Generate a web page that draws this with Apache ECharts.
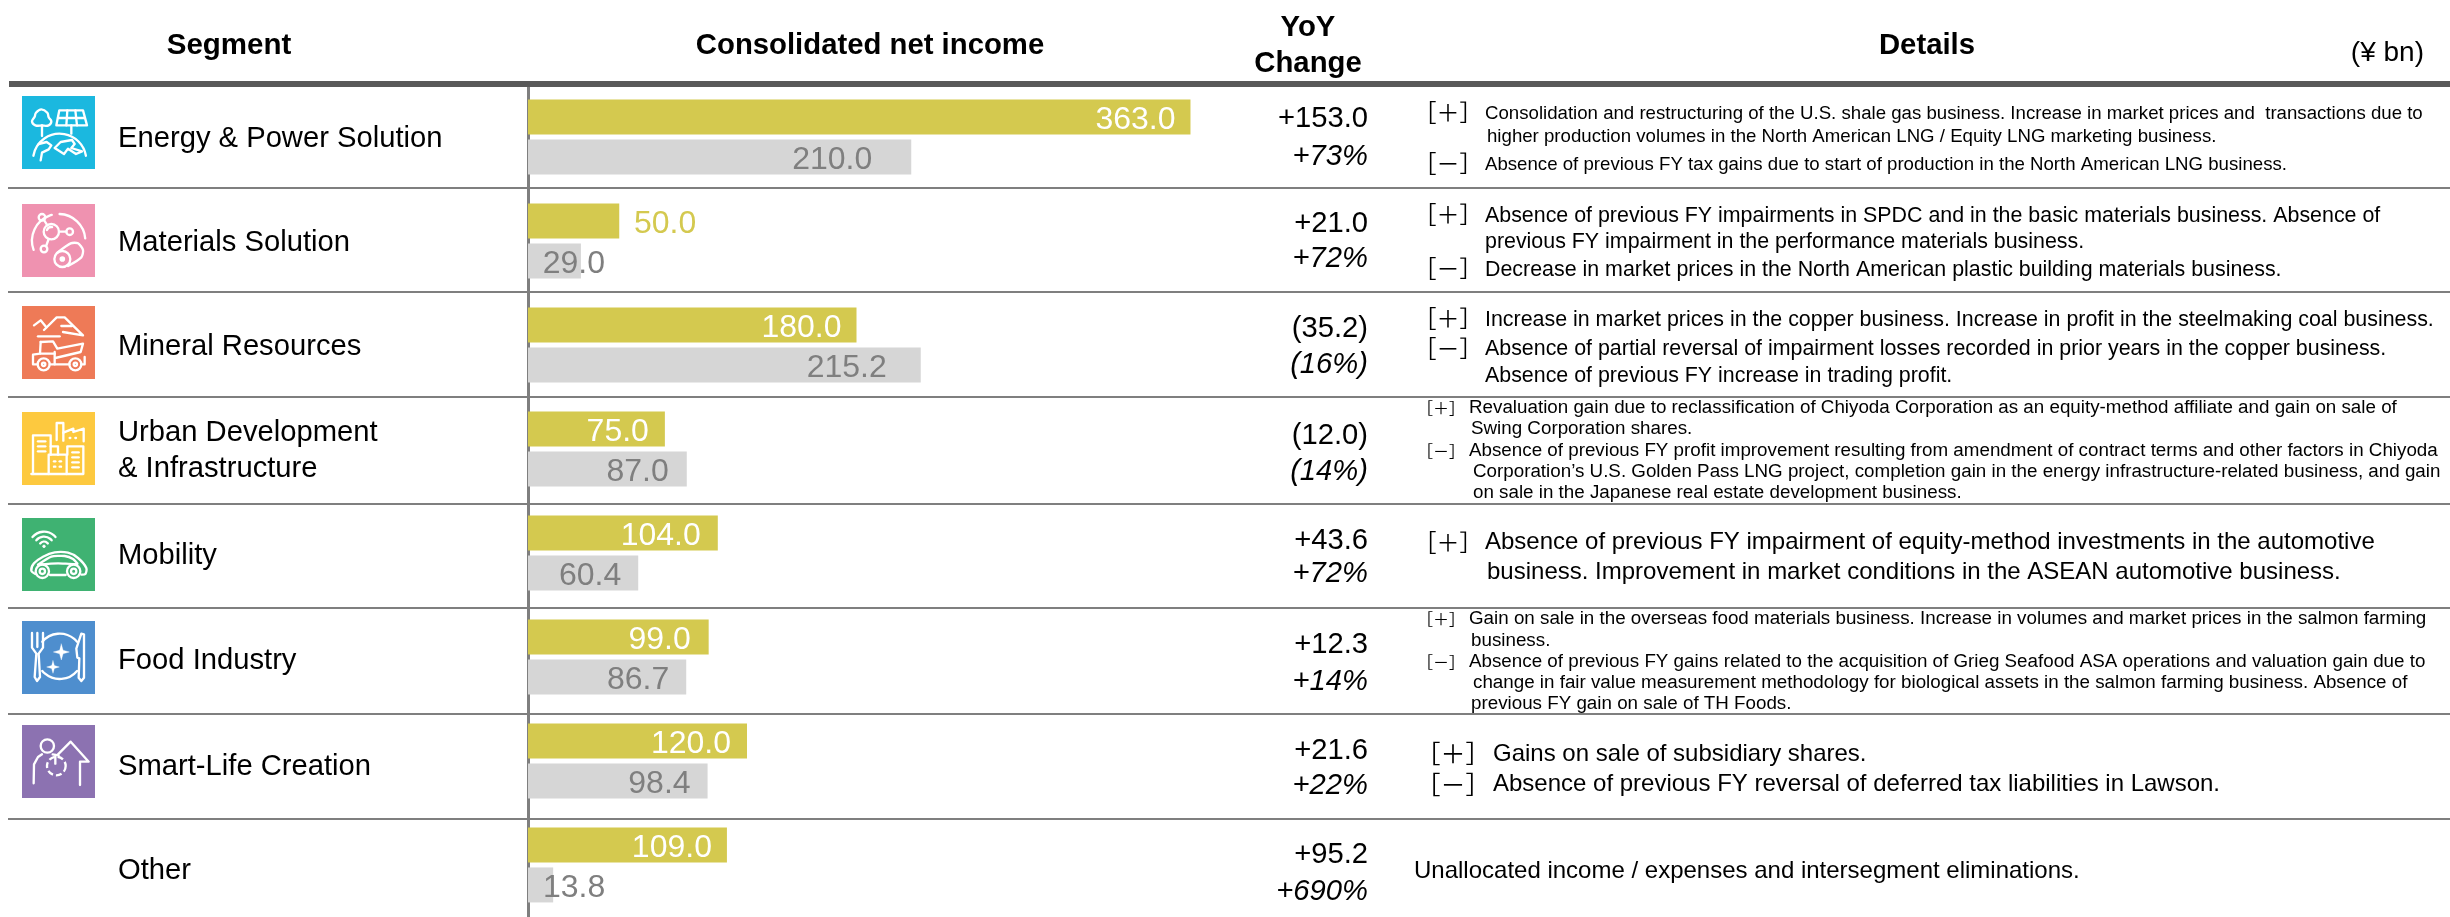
<!DOCTYPE html>
<html><head><meta charset="utf-8">
<style>html,body{margin:0;padding:0;background:#fff}#c{width:2450px;height:917px}</style>
<script src="https://cdn.jsdelivr.net/npm/echarts@6/dist/echarts.min.js"></script>
</head><body><div id="c"></div>
<script>
const segments = ['Energy & Power Solution','Materials Solution','Mineral Resources','Urban Development\n& Infrastructure','Mobility','Food Industry','Smart-Life Creation','Other'];
const currentFY = [363.0,50.0,180.0,75.0,104.0,99.0,120.0,109.0];
const previousFY = [210.0,29.0,215.2,87.0,60.4,86.7,98.4,13.8];
const yoyAmount = ['+153.0','+21.0','(35.2)','(12.0)','+43.6','+12.3','+21.6','+95.2'];
const yoyPercent = ['+73%','+72%','(16%)','(14%)','+72%','+14%','+22%','+690%'];
const headers = ['Segment','Consolidated net income','YoY','Change','Details'];
const unitLabel = '(¥ bn)';
const detailText = [
 'Consolidation and restructuring of the U.S. shale gas business. Increase in market prices and  transactions due to',
 'higher production volumes in the North American LNG / Equity LNG marketing business.',
 'Absence of previous FY tax gains due to start of production in the North American LNG business.',
 'Absence of previous FY impairments in SPDC and in the basic materials business. Absence of',
 'previous FY impairment in the performance materials business.',
 'Decrease in market prices in the North American plastic building materials business.',
 'Increase in market prices in the copper business. Increase in profit in the steelmaking coal business.',
 'Absence of partial reversal of impairment losses recorded in prior years in the copper business.',
 'Absence of previous FY increase in trading profit.',
 'Revaluation gain due to reclassification of Chiyoda Corporation as an equity-method affiliate and gain on sale of',
 'Swing Corporation shares.',
 'Absence of previous FY profit improvement resulting from amendment of contract terms and other factors in Chiyoda',
 'Corporation\u2019s U.S. Golden Pass LNG project, completion gain in the energy infrastructure-related business, and gain',
 'on sale in the Japanese real estate development business.',
 'Absence of previous FY impairment of equity-method investments in the automotive',
 'business. Improvement in market conditions in the ASEAN automotive business.',
 'Gain on sale in the overseas food materials business. Increase in volumes and market prices in the salmon farming',
 'business.',
 'Absence of previous FY gains related to the acquisition of Grieg Seafood ASA operations and valuation gain due to',
 'change in fair value measurement methodology for biological assets in the salmon farming business. Absence of',
 'previous FY gain on sale of TH Foods.',
 'Gains on sale of subsidiary shares.',
 'Absence of previous FY reversal of deferred tax liabilities in Lawson.',
 'Unallocated income / expenses and intersegment eliminations.'
];
// layout (pixels), kept apart from the data
const detailLayout = [[1485,114,18.65],[1487,137,18.65],[1485,165,18.65],[1485,216,21.4],[1485,242,21.4],[1485,270,21.4],[1485,320,21.4],[1485,349,21.4],[1485,376,21.4],[1469,408,18.8],[1471,429,18.8],[1469,451,18.8],[1473,472,18.8],[1473,493,18.8],[1485,542,24],[1487,572,24],[1469,619,18.8],[1471,641,18.8],[1469,662,18.8],[1473,683,18.8],[1471,704,18.8],[1493,754,24],[1493,784,24],[1414,871,24]];
const bracketLayout = [['+',1448,112,23],['-',1448,163,23],['+',1448,214,23],['-',1448,268,23],['+',1448,318,23],['-',1448,348,23],['+',1441,408,16],['-',1441,451,16],['+',1448,542,23],['+',1441,619,16],['-',1441,662,16],['+',1453,753,25],['-',1453,784,25]];
const yoyY = [[119,157],[224,259],[329,365],[436,472],[541,574],[645,682],[751,786],[855,892]];
const ruleY = [188,292,397,504,608,714,819];
const labelSkewCurrent = [15,-77,15,16,17,18,16,15];
const labelSkewPrevious = [39,-24,34,18,17,17,17,-52];
const labelPad = [3,3,3,3,6,7,11,11];
const iconY = [92,200,302,408,514,617,721];
const iconColor = ['#1BB8DF','#EF92B0','#EE7A57','#FDC93F','#3FB272','#4E8ECE','#8C72B1'];

const FONT = '"Liberation Sans", Arial, sans-serif';
const W = '#ffffff';
function P(pts, o){ o=o||{}; return {type:o.close?'polygon':'polyline', shape:{points:pts, smooth:o.smooth||0}, style:{fill:o.fill||'none', stroke:W, lineWidth:o.w||7, lineJoin:'round', lineCap:'round'}}; }
function C(cx,cy,r,o){ o=o||{}; return {type:'circle', shape:{cx,cy,r}, style:{fill:o.fill||'none', stroke:W, lineWidth:o.w||7, lineDash:o.dash||null}}; }
function A(cx,cy,r,a,b){ return {type:'arc', shape:{cx,cy,r,startAngle:a*Math.PI/180,endAngle:b*Math.PI/180,clockwise:true}, style:{fill:'none',stroke:W,lineWidth:7,lineCap:'round'}}; }
function spark(x,y,s){ const k=s*0.22; return P([[x,y-s],[x+k,y-k],[x+s,y],[x+k,y+k],[x,y+s],[x-k,y+k],[x-s,y],[x-k,y-k]],{close:1,fill:W,w:1}); }
const iconShapes = [
 [ // energy
  P([[72,100],[52,100],[42,88],[50,74],[54,62],[70,52],[88,62],[92,76],[100,88],[92,100],[72,100]],{smooth:0.4}),
  P([[72,100],[72,132]]),
  P([[124,55],[195,55],[207,100],[115,100]],{close:1}),
  P([[148,55],[145,100]]),P([[172,55],[177,100]]),P([[120,78],[201,78]]),P([[160,100],[160,125]]),
  A(125,205,80,190,350),
  P([[68,205],[72,182],[92,172],[100,160],[86,150],[62,156]]),
  P([[110,168],[128,150],[162,144],[170,156],[160,168],[192,178],[174,186],[150,170],[138,186],[110,168]])
 ],
 [ // materials
  A(122,122,80,-88,-5), A(122,122,80,160,255),
  C(100,95,23), A(100,95,14,200,280),
  C(72,52,10), C(155,95,10), C(78,147,10),
  P([[78,60],[88,76]]),P([[123,95],[145,95]]),P([[84,139],[92,117]]),
  C(133,177,24), C(133,177,5,{fill:W}),
  P([[118,158],[158,130],[180,130],[195,150],[190,172],[150,198]],{smooth:0.25})
 ],
 [ // mineral
  P([[48,70],[68,55],[85,76]]),
  P([[78,84],[116,46],[140,46],[195,100],[135,90]]),
  P([[130,72],[162,72]]),P([[60,103],[125,103]]),
  P([[68,120],[105,118],[118,140],[195,125],[188,150],[112,168]]),
  P([[68,120],[66,155],[45,158],[45,187],[58,187]]),
  P([[96,187],[154,187]]),P([[110,150],[110,187]]),P([[68,155],[110,155]]),P([[190,187],[200,187],[200,165]]),
  C(77,187,18),C(77,187,5),C(172,187,18),C(172,187,5)
 ],
 [ // urban
  P([[45,198],[45,82],[98,82],[98,140]]),
  P([[60,100],[82,100]]),P([[60,115],[82,115]]),P([[60,130],[82,130]]),
  P([[98,115],[120,115],[120,140]]),
  P([[92,198],[92,140],[146,140],[146,198]]),
  P([[108,160],[112,160]]),P([[125,160],[129,160]]),P([[108,176],[112,176]]),P([[125,176],[129,176]]),
  P([[148,140],[148,115],[196,115],[196,198],[40,198]]),
  P([[163,133],[182,133]]),P([[163,148],[182,148]]),P([[163,163],[182,163]]),P([[163,178],[182,178]]),
  P([[116,96],[116,45],[136,45],[136,74],[166,62],[166,72],[197,62],[197,100]]),
  P([[136,74],[136,98]]),P([[155,90],[157,90]]),P([[172,90],[174,90]])
 ],
 [ // mobility
  A(78,98,45,220,320),A(78,98,30,220,320),A(78,98,15,220,320),C(78,97,4,{fill:W,w:2}),
  P([[52,180],[40,170],[48,148],[75,128],[110,115],[150,116],[180,132],[205,162],[202,180],[190,182]],{smooth:0.3}),
  P([[96,183],[143,183]]),
  P([[60,152],[100,128],[140,126],[165,135],[178,150],[120,148],[60,152]],{smooth:0.2}),
  C(73,172,20),C(73,172,8),C(167,172,20),C(167,172,8)
 ],
 [ // food
  P([[42,48],[42,92],[55,110],[50,180],[57,192],[66,180],[62,110],[75,92],[75,48]]),
  P([[58,48],[58,90]]),
  P([[190,50],[175,95],[178,122],[184,124],[182,182],[190,192],[198,182],[198,52],[190,50]]),
  A(125,118,68,-140,-40),A(125,118,68,40,140),
  spark(130,105,24),spark(105,150,19)
 ],
 [ // smart-life
  C(88,75,20),
  P([[47,187],[48,130],[60,108],[72,100]]),P([[104,100],[122,103]]),
  P([[120,100],[158,62],[212,122],[186,122],[186,192]]),
  C(115,135,28,{dash:[18,9]}),P([[112,105],[112,128]])
 ]
];

const graphics = [];
function T(text,x,y,size,o){ o=o||{}; graphics.push({type:'text', silent:true, z:20, style:{text, x, y, fill:o.fill||'#000', font:(o.style||'')+' '+(o.weight||'')+' '+size+'px '+(o.family||FONT), textAlign:o.align||'left', textVerticalAlign:'middle', verticalAlign:'middle'}}); }
function rule(y,w,color,x0){ graphics.push({type:'line', silent:true, z:5, shape:{x1:x0,y1:y,x2:2450,y2:y}, style:{stroke:color,lineWidth:w}}); }

rule(84,6,'#595959',9);
ruleY.forEach(y=>rule(y,2,'#7f7f7f',8));
T(headers[0],229,45.5,29.5,{weight:'bold',align:'center'});
T(headers[1],870,45.5,29.3,{weight:'bold',align:'center'});
T(headers[2],1308,27.5,29.3,{weight:'bold',align:'center'});
T(headers[3],1308,63.5,29.3,{weight:'bold',align:'center'});
T(headers[4],1927,45.5,29.3,{weight:'bold',align:'center'});
T(unitLabel,2424,53.5,28,{align:'right'});
yoyAmount.forEach((v,i)=>T(v,1368,yoyY[i][0],29.2,{align:'right'}));
yoyPercent.forEach((v,i)=>T(v,1368,yoyY[i][1],29.2,{align:'right',style:'italic'}));
detailText.forEach((t,i)=>T(t,detailLayout[i][0],detailLayout[i][1],detailLayout[i][2]));
bracketLayout.forEach(b=>T(b[0]==='+'?'\uFF3B\uFF0B\uFF3D':'\uFF3B\uFF0D\uFF3D',b[1],b[2],b[3],{align:'center',family:'"Noto Sans CJK JP"'}));
iconShapes.forEach((shapes,i)=>{
  graphics.push({type:'group', x:18, y:iconY[i], scaleX:1/3, scaleY:1/3, z:10, silent:true, children:[
    {type:'rect', shape:{x:12,y:12,width:219,height:219}, style:{fill:iconColor[i]}}
  ].concat(shapes)});
});

const richStyles = {};
labelPad.forEach((p,i)=>{ richStyles['r'+i]={padding:[p,0,0,0],fontSize:29.2,fontFamily:FONT,color:'#000',lineHeight:36,align:'left'}; });

const chart = echarts.init(document.getElementById('c'),null,{renderer:'canvas'});
chart.setOption({
  animation:false,
  backgroundColor:'#fff',
  grid:{left:528,top:85,width:730,height:834,containLabel:false},
  xAxis:{type:'value',min:0,max:400,show:false,splitLine:{show:false}},
  yAxis:{type:'category',inverse:true,data:segments,
    axisLine:{show:true,onZero:false,lineStyle:{color:'#7f7f7f',width:3}},axisTick:{show:false},splitLine:{show:false},
    axisLabel:{interval:0,align:'left',margin:410,fontSize:29.2,fontFamily:FONT,color:'#000',lineHeight:36,
      formatter:(v,i)=>v.split('\n').map(s=>'{r'+i+'|'+s+'}').join('\n'),rich:richStyles}},
  series:[
   {type:'bar',name:'Current FY',barWidth:35,barGap:'14%',
    itemStyle:{color:'#D4C94F'},
    data:currentFY.map((v,i)=>({value:v,label:{show:true,position:'insideRight',distance:labelSkewCurrent[i],offset:[0,3],color:i===1?'#D4C94F':'#fff',fontSize:32,fontFamily:FONT,formatter:p=>p.value.toFixed(1)}})),z:3},
   {type:'bar',name:'Previous FY',barWidth:35,
    itemStyle:{color:'#D6D6D6'},
    data:previousFY.map((v,i)=>({value:v,label:{show:true,position:'insideRight',distance:labelSkewPrevious[i],offset:[0,3],color:'#7f7f7f',fontSize:32,fontFamily:FONT,formatter:p=>p.value.toFixed(1)}})),z:3}
  ],
  graphic:{elements:graphics}
});
</script></body></html>
